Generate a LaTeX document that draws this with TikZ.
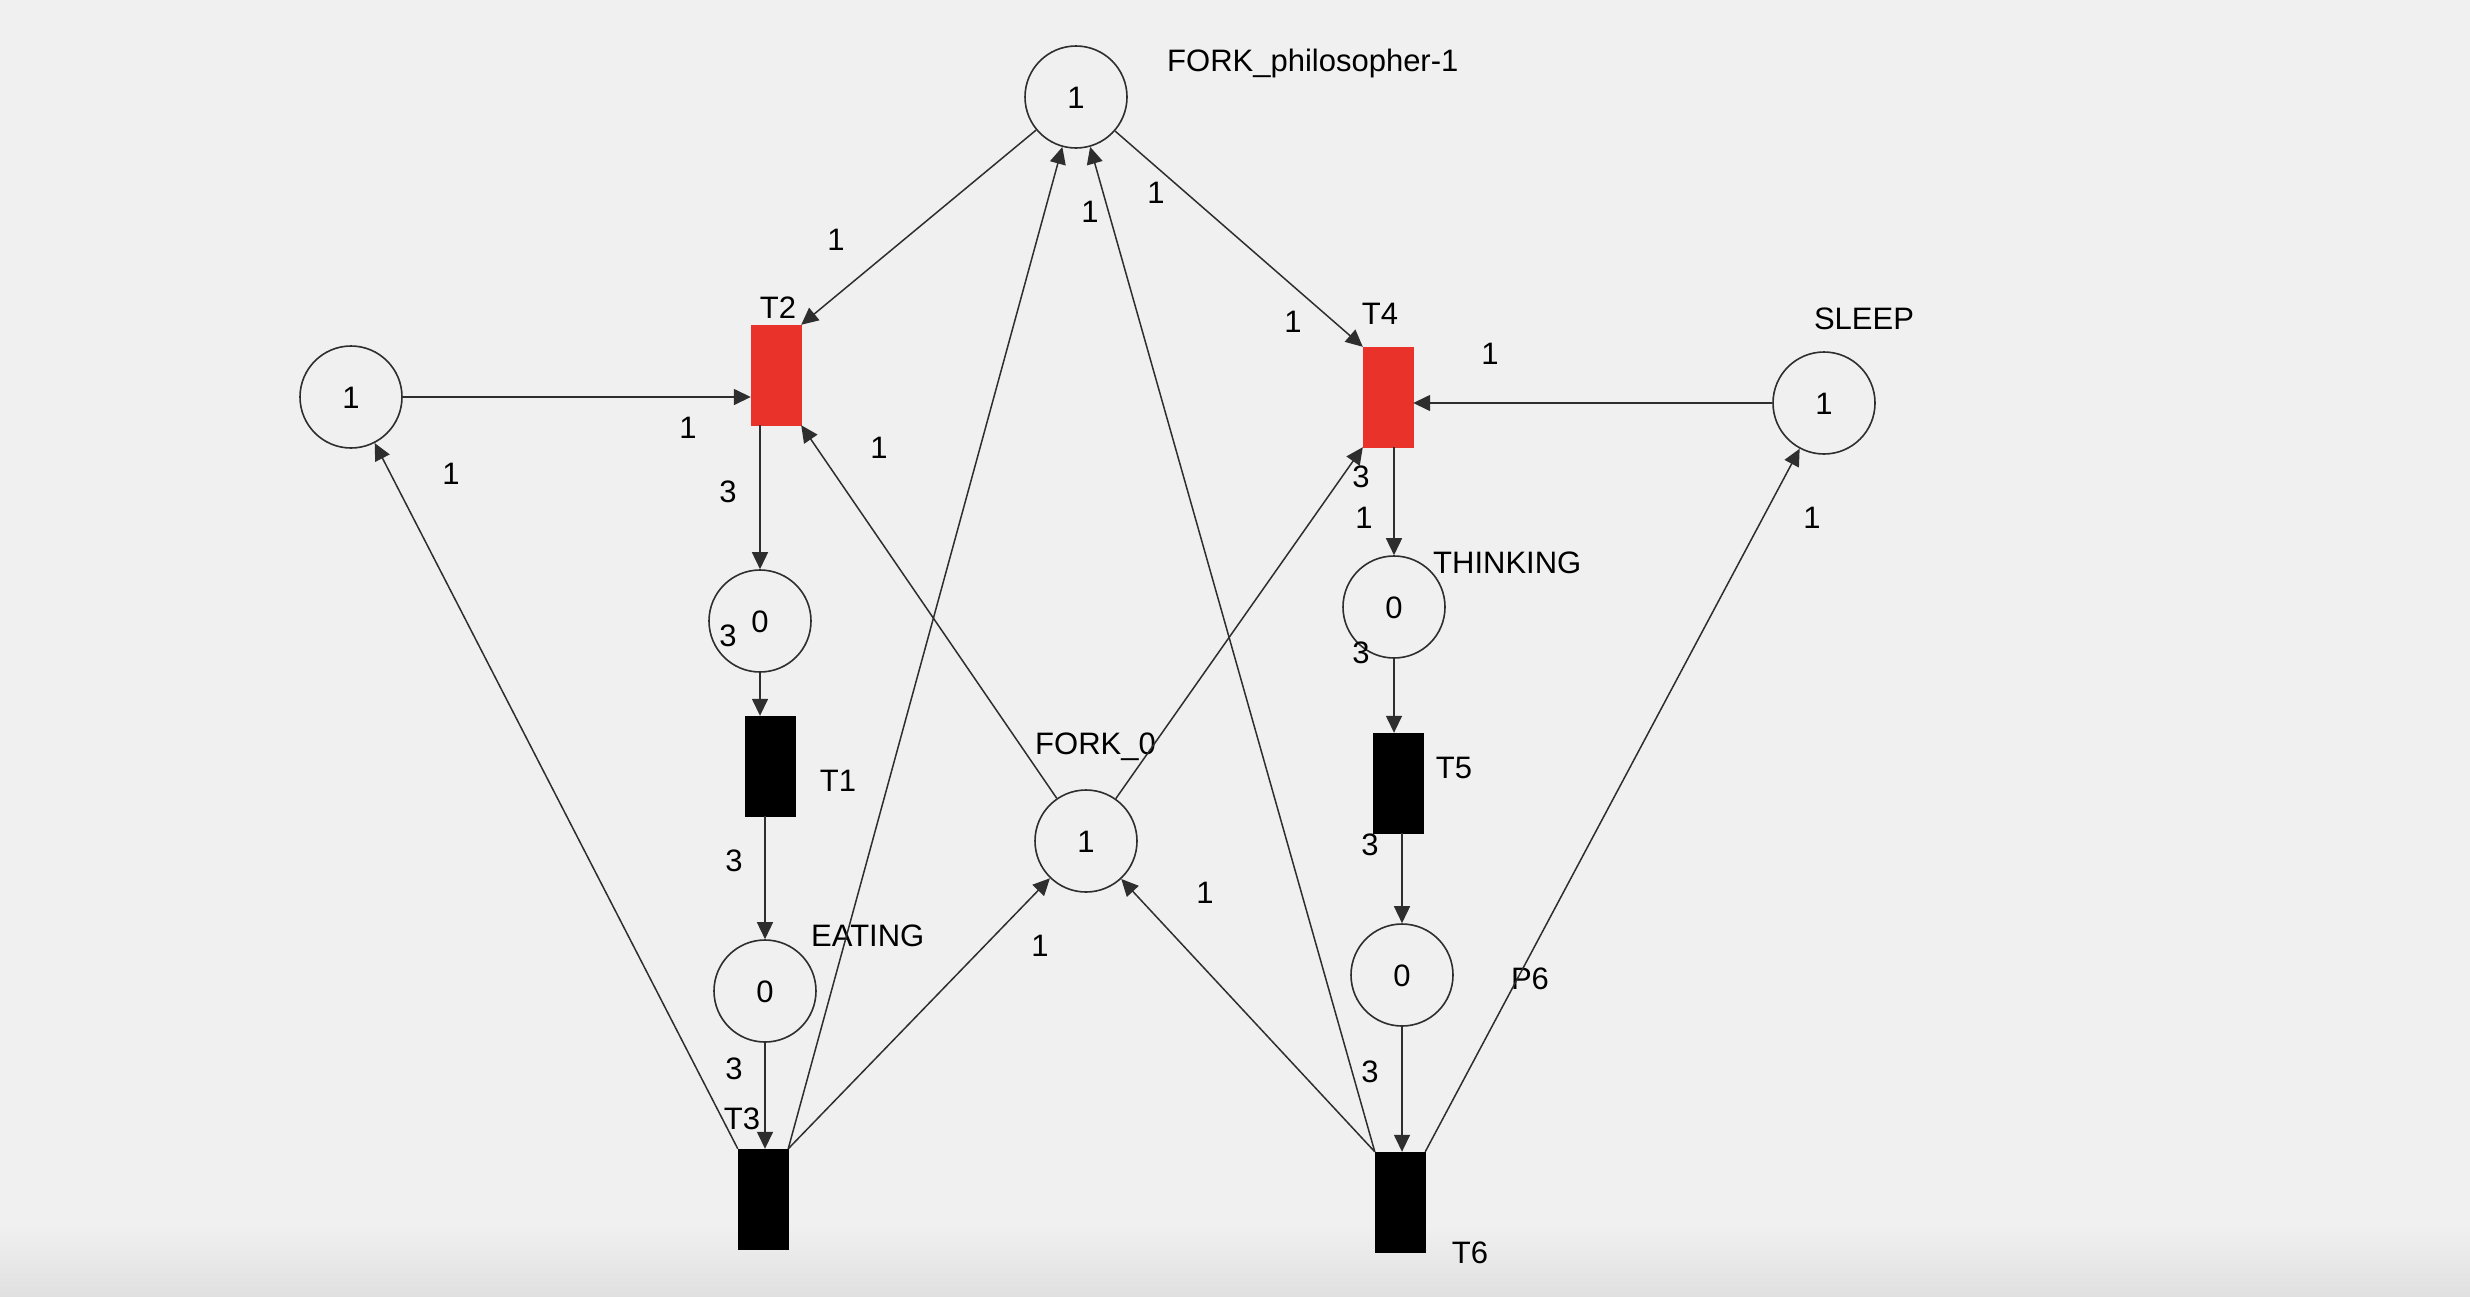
\documentclass[tikz,border=0pt]{standalone}
\usepackage{fontspec}
\setmainfont{Liberation Sans}
\usetikzlibrary{arrows.meta}
\definecolor{bgcol}{HTML}{F0F0F0}
\definecolor{firered}{HTML}{E8322A}
\definecolor{arccol}{HTML}{2E2E2E}
\begin{document}
\begin{tikzpicture}[x = 1pt, y = -1pt,
	every node/.style = {font = \fontsize{31}{36}\selectfont, text height = 22pt, text depth = 0pt, inner sep = 0pt},
	place/.style = {circle, draw = arccol, line width = 1.6pt, minimum size = 102pt},
	trans/.style = {rectangle, fill = black, draw = black, minimum width = 50pt, minimum height = 100pt},
	enabled/.style = {trans, fill = firered, draw = firered},
	arc/.style = {draw = arccol, line width = 1.5pt, -{Triangle[length = 17pt, width = 16pt]}}]
	\fill [bgcol] (0,0) rectangle (2470,1296);
	\shade [top color = bgcol, bottom color = black!12] (0,1225) rectangle (2470,1296);
	\useasboundingbox (0,0) rectangle (2470,1296);

	\node [place] (ptop) at (1076,97) {1};
	\node [place] (pleft) at (351,397) {1};
	\node [place] (sleep) at (1824,403) {1};
	\node [place] (pwait) at (760,621) {0};
	\node [place] (eating) at (765,991) {0};
	\node [place] (fork0) at (1086,841) {1};
	\node [place] (thinking) at (1394,607) {0};
	\node [place] (p6) at (1402,975) {0};

	\node [enabled] (t2) at (776,375) {};
	\node [enabled] (t4) at (1388,397) {};
	\node [trans] (t1) at (770,766) {};
	\node [trans] (t5) at (1398,783) {};
	\node [trans] (t3) at (763,1199) {};
	\node [trans] (t6) at (1400,1202) {};

	\node [anchor = west] (lptop) at (1167,60) {FORK\_philosopher-1};
	\node (lsleep) at (1864,318) {SLEEP};
	\node [anchor = west] (lthinking) at (1433,562) {THINKING};
	\node [anchor = west] (leating) at (811,935) {EATING};
	\node [anchor = west] (lfork0) at (1035,743) {FORK\_0};
	\node (lp6) at (1530,978) {P6};
	\node (lt2) at (778,307) {T2};
	\node (lt4) at (1380,313) {T4};
	\node (lt1) at (838,780) {T1};
	\node (lt5) at (1454,767) {T5};
	\node (lt3) at (742,1118) {T3};
	\node (lt6) at (1470,1252) {T6};

	\draw [arc] (ptop) -- (t2.north east);
	\draw [arc] (ptop) -- (t4.north west);
	\draw [arc] (pleft) -- (pleft -| t2.west);
	\draw [arc] (sleep) -- (sleep -| t4.east);
	\draw [arc] (t2.south -| pwait) -- (pwait);
	\draw [arc] (pwait) -- (t1.north -| pwait);
	\draw [arc] (t1.south -| eating) -- (eating);
	\draw [arc] (eating) -- (t3.north -| eating);
	\draw [arc] (t4.south -| thinking) -- (thinking);
	\draw [arc] (thinking) -- (t5.north -| thinking);
	\draw [arc] (t5.south -| p6) -- (p6);
	\draw [arc] (p6) -- (t6.north -| p6);
	\draw [arc] (t3.north west) -- (pleft);
	\draw [arc] (t3.north east) -- (ptop);
	\draw [arc] (t3.north east) -- (fork0);
	\draw [arc] (fork0) -- (t2.south east);
	\draw [arc] (fork0) -- (t4.south west);
	\draw [arc] (t6.north west) -- (fork0);
	\draw [arc] (t6.north west) -- (ptop);
	\draw [arc] (t6.north east) -- (sleep);

	\node (w-ptop-t2) at (836,239) {1};
	\node (w-ptop-t4) at (1156,192) {1};
	\node (w-t6-ptop) at (1090,211) {1};
	\node (w-t4-in) at (1293,321) {1};
	\node (w-sleep-t4) at (1490,353) {1};
	\node (w-pleft-t2) at (688,427) {1};
	\node (w-t3-pleft) at (451,473) {1};
	\node (w-fork0-t2) at (879,447) {1};
	\node (w-t2-pwait) at (728,491) {3};
	\node (w-pwait-t1) at (728,635) {3};
	\node (w-fork0-t4) at (1361,476) {3};
	\node (w-t4-thinking) at (1364,517) {1};
	\node (w-t6-sleep) at (1812,517) {1};
	\node (w-thinking-t5) at (1361,652) {3};
	\node (w-t1-eating) at (734,860) {3};
	\node (w-t5-p6) at (1370,844) {3};
	\node (w-t6-fork0) at (1205,892) {1};
	\node (w-t3-fork0) at (1040,945) {1};
	\node (w-eating-t3) at (734,1068) {3};
	\node (w-p6-t6) at (1370,1071) {3};
\end{tikzpicture}
\end{document}
